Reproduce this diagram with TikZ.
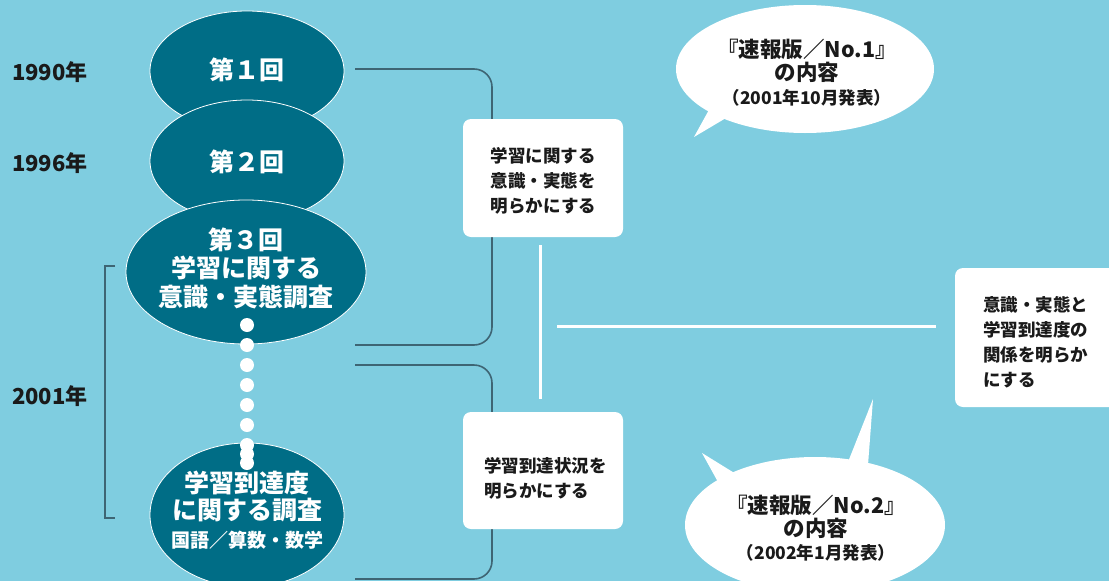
\documentclass[tikz,border=0pt]{standalone}
\usepackage{fontspec}
\usetikzlibrary{shapes.geometric}
\newfontfamily\jp{Noto Sans CJK JP}
\definecolor{bgc}{HTML}{7FCDE0}
\definecolor{ellc}{HTML}{006D86}
\definecolor{brkc}{HTML}{3E6574}
\definecolor{txtc}{HTML}{1A1A1A}
\begin{document}
\begin{tikzpicture}[x=1pt,y=-1pt,
  ell/.style={ellipse, fill=ellc, draw=white, line width=0.8pt, inner sep=0pt},
  etxt/.style={text=white, font=\jp\bfseries\fontsize{25}{28.5}\selectfont, align=center, inner sep=0pt},
  etxtsmall/.style={text=white, font=\jp\bfseries\fontsize{19}{22}\selectfont, inner sep=0pt},
  yeartxt/.style={text=txtc, font=\jp\bfseries\fontsize{22}{24}\selectfont, anchor=west, inner sep=0pt},
  wbox/.style={fill=white, rounded corners=8pt, inner sep=0pt},
  btxt/.style={font=\jp\bfseries\fontsize{17.5}{25}\selectfont, align=left, text=txtc, inner sep=0pt},
  bigtxt/.style={font=\jp\bfseries\fontsize{21.5}{24}\selectfont, text=txtc, inner sep=0pt, anchor=base},
  smalltxt/.style={font=\jp\bfseries\fontsize{17.5}{20}\selectfont, text=txtc, inner sep=0pt, anchor=base},
  brkline/.style={draw=brkc, line width=1.6pt, rounded corners=18pt},
  leftbrk/.style={draw=brkc, line width=1.6pt},
  wline/.style={draw=white, line width=3pt},
  dotc/.style={circle, fill=white, minimum size=14pt, inner sep=0pt},
  balloon/.style={ellipse, fill=white, inner sep=0pt}
]
\useasboundingbox (0,0) rectangle (1109,581);
\fill[bgc] (0,0) rectangle (1109,581);

% grey brackets on the right of the ellipses
\coordinate (k1a) at (355,69);
\coordinate (k1b) at (492,69);
\coordinate (k1c) at (492,345);
\coordinate (k1d) at (355,345);
\draw[brkline] (k1a) -- (k1b) -- (k1c) -- (k1d);
\coordinate (k2a) at (355,365);
\coordinate (k2b) at (492,365);
\coordinate (k2c) at (492,579);
\coordinate (k2d) at (355,579);
\draw[brkline] (k2a) -- (k2b) -- (k2c) -- (k2d);

% left bracket for 2001
\coordinate (l1) at (115,266);
\coordinate (l2) at (105,266);
\coordinate (l3) at (105,518);
\coordinate (l4) at (115,518);
\draw[leftbrk] (l1) -- (l2) -- (l3) -- (l4);

% year labels
\node[yeartxt] (y1) at (12,72) {1990年};
\node[yeartxt] (y2) at (12,163) {1996年};
\node[yeartxt] (y3) at (12,396) {2001年};

% ellipses
\node[ell, minimum width=194pt, minimum height=120pt] (e1) at (247,71) {};
\node[ell, minimum width=194pt, minimum height=122pt] (e2) at (247,161) {};
\node[ell, minimum width=240pt, minimum height=144pt] (e3) at (246,272) {};
\node[ell, minimum width=194pt, minimum height=144pt] (e4) at (247,515) {};

\node[etxt] (t1) at (247,70) {第１回};
\node[etxt] (t2) at (247,162) {第２回};
\node[etxt] (t3) at (246,268) {第３回\\学習に関する\\意識・実態調査};
\node[etxt, anchor=base] (t4a) at (247,492.5) {学習到達度};
\node[etxt, anchor=base] (t4b) at (247,519.5) {に関する調査};
\node[etxtsmall, anchor=base] (t4c) at (247,547) {国語／算数・数学};

% dots
\foreach \yy [count=\i] in {325,345,365,385,405,425,445,454,463}
  {\node[dotc] (dot\i) at (247,\yy) {};}

% white boxes
\node[wbox, minimum width=160pt, minimum height=118pt] (b1) at (543,178) {};
\node[btxt] (bt1) at (543.5,181) {学習に関する\\意識・実態を\\明らかにする};
\node[wbox, minimum width=160pt, minimum height=117pt] (b2) at (543,470.5) {};
\node[btxt] (bt2) at (545.5,478) {学習到達状況を\\明らかにする};
\node[wbox, minimum width=162pt, minimum height=139pt] (b3) at (1036,337.5) {};
\node[btxt, anchor=north west] (bt3) at (983,296) {意識・実態と\\学習到達度の\\関係を明らか\\にする};

% white connecting lines
\coordinate (v1) at (540,245);
\coordinate (v2) at (540,399);
\draw[wline] (v1) -- (v2);
\coordinate (h1) at (557,326);
\coordinate (h2) at (936,326);
\draw[wline] (h1) -- (h2);

% balloon 1
\fill[white] (694,137) -- (710,108) -- (726,118) -- cycle;
\node[balloon, minimum width=258pt, minimum height=128pt] (bl1) at (805,69) {};
\node[bigtxt] (bl1a) at (807,57) {『速報版／No.1』};
\node[bigtxt] (bl1b) at (807,80) {の内容};
\node[smalltxt] (bl1c) at (807,104) {（2001年10月発表）};

% balloon 2
\fill[white] (702,453) -- (718,482) -- (736,474) -- cycle;
\fill[white] (873,399) -- (848,462) -- (868,465) -- cycle;
\node[balloon, minimum width=260pt, minimum height=136pt] (bl2) at (815,525) {};
\node[bigtxt] (bl2a) at (816,513) {『速報版／No.2』};
\node[bigtxt] (bl2b) at (816,536) {の内容};
\node[smalltxt] (bl2c) at (816,559) {（2002年1月発表）};
\end{tikzpicture}
\end{document}
